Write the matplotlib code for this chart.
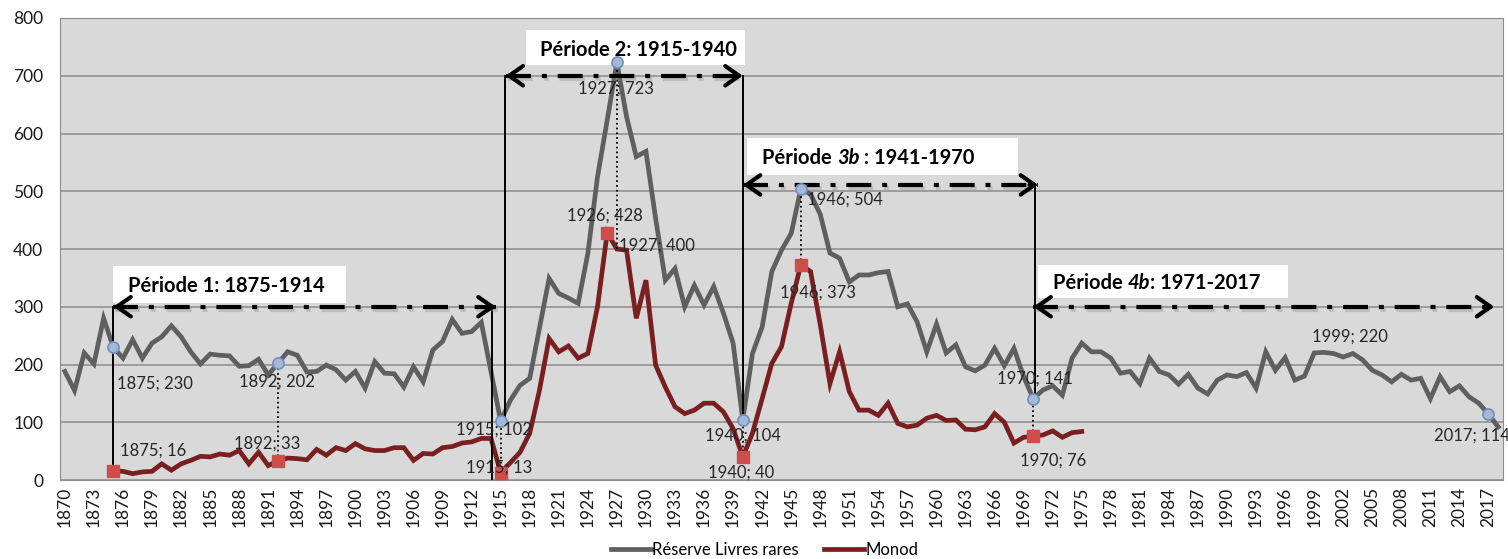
import matplotlib
matplotlib.use("Agg")
import matplotlib.pyplot as plt
import matplotlib.patheffects as pe
from matplotlib.patches import Rectangle

plt.rcParams['font.family'] = ['Lato', 'DejaVu Sans']

# --- data -------------------------------------------------------------
years = list(range(1870, 2019))
reserve = [188, 155, 220, 201, 280, 230, 211, 243, 211, 237,   # 1870-1879
           248, 267, 248, 222, 201, 218, 216, 215, 197, 198,   # 1880-1889
           209, 182, 202, 222, 216, 187, 188, 199, 191, 173,   # 1890-1899
           188, 159, 205, 185, 184, 161, 196, 170, 225, 240,   # 1900-1909
           278, 254, 257, 273, 188, 102, 138, 164, 176, 263,   # 1910-1919
           349, 323, 315, 306, 392, 525, 623, 723, 629, 560,   # 1920-1929
           569, 453, 346, 366, 300, 337, 303, 335, 289, 237,   # 1930-1939
           104, 219, 265, 361, 398, 427, 504, 495, 460, 393,   # 1940-1949
           384, 343, 355, 355, 359, 361, 300, 305, 274, 222,   # 1950-1959
           270, 220, 234, 196, 189, 199, 228, 198, 228, 179,   # 1960-1969
           141, 156, 163, 147, 211, 237, 222, 222, 211, 185,   # 1970-1979
           188, 167, 211, 188, 182, 166, 183, 159, 149, 173,   # 1980-1989
           182, 179, 186, 159, 222, 190, 212, 173, 180, 220,   # 1990-1999
           221, 219, 213, 219, 208, 190, 182, 170, 183, 173,   # 2000-2009
           176, 141, 179, 153, 163, 144, 133, 114, 92]         # 2010-2018

monod_years = list(range(1875, 1976))
monod = [16, 15, 11, 14, 15,                                 # 1875-1879
         28, 17, 28, 34, 41, 40, 45, 43, 51, 28,             # 1880-1889
         48, 25, 33, 38, 37, 35, 53, 43, 56, 51,             # 1890-1899
         63, 54, 51, 51, 56, 56, 34, 46, 45, 56,             # 1900-1909
         58, 64, 66, 72, 72, 13, 30, 48, 81, 155,            # 1910-1919
         245, 222, 232, 211, 219, 300, 428, 400, 398, 280,   # 1920-1929
         346, 199, 161, 127, 115, 121, 133, 133, 118, 89,    # 1930-1939
         40, 81, 141, 202, 231, 306, 373, 361, 269, 167,     # 1940-1949
         222, 153, 121, 121, 112, 133, 98, 92, 95, 107,      # 1950-1959
         112, 103, 104, 88, 87, 92, 115, 100, 64, 74,        # 1960-1969
         76, 78, 85, 74, 82, 84]                             # 1970-1975

tick_years = list(range(1870, 2018, 3))
y_ticks = list(range(0, 801, 100))

reserve_marked = [1875, 1892, 1915, 1927, 1940, 1946, 1970, 2017]
monod_marked = [1875, 1892, 1915, 1926, 1940, 1946, 1970]

# data labels: (series, year, dx in years, dy in values)
labels = [("r", 1875, 0.4, -63), ("r", 1892, -4.0, -32),
          ("m", 1875, 0.7, 35), ("m", 1892, -4.5, 30),
          ("r", 1915, -4.6, -14), ("m", 1915, -3.6, 9),
          ("r", 1927, -4.0, -45), ("m", 1926, -4.2, 30),
          ("m", 1927, 0.2, 6),
          ("r", 1940, -3.9, -28), ("m", 1940, -3.6, -28),
          ("r", 1946, 0.6, -19), ("m", 1946, -2.2, -48),
          ("r", 1970, -3.7, 34), ("m", 1970, -1.4, -43),
          ("r", 1999, -0.2, 28), ("r", 2017, -5.6, -38)]

# dotted links between the two series
dotted_years = [1892, 1915, 1927, 1940, 1946, 1970]

# periods: arrow start, arrow end, arrow level
periods = [(1875, 1914.5, 300), (1915.5, 1940, 700),
           (1940, 1970.5, 511), (1970, 2017.6, 300)]
# solid verticals: x, y from, y to
verticals = [(1875, 16, 300), (1914.1, 0, 300), (1915.4, 102, 700),
             (1940, 104, 700), (1970.2, 141, 511)]
# title boxes: x0, x1, y0, y1, text x, text y, parts
period_boxes = [
    (1875, 1899, 306, 370, 1876.5, 336, [("Période 1: 1875-1914", "normal")]),
    (1917.6, 1940.2, 719, 779, 1919.1, 745, [("Période 2: 1915-1940", "normal")]),
    (1940.4, 1968.4, 528, 592, 1942, 558,
     [("Période ", "normal"), ("3b", "italic"), (" : 1941-1970", "normal")]),
    (1970.5, 1996.3, 315, 372, 1972, 341,
     [("Période ", "normal"), ("4b", "italic"), (": 1971-2017", "normal")]),
]

GRAY = '#5f5f5f'
RED = '#7a1f1f'


def val(series, year):
    if series == "r":
        return reserve[years.index(year)]
    return monod[monod_years.index(year)]


def period_text(ax, x, y, parts, size):
    prev = None
    for txt, style in parts:
        if prev is None:
            prev = ax.text(x, y, txt, fontsize=size, fontweight='bold',
                           style=style, va='center', ha='left', zorder=6)
        else:
            prev = ax.annotate(txt, xy=(1, 0), xycoords=prev, va='bottom',
                               ha='left', fontsize=size, fontweight='bold',
                               style=style, zorder=6)


def main():
    fig, ax = plt.subplots(figsize=(15.08, 5.59), dpi=100)
    fig.subplots_adjust(left=0.0398, right=0.9967, top=0.9678, bottom=0.1413)
    ax.set_facecolor('#d9d9d9')

    ax.plot(years, reserve, color=GRAY, lw=3.4, solid_joinstyle='miter',
            label='Réserve Livres rares', zorder=3)
    ax.plot(monod_years, monod, color=RED, lw=3.4, solid_joinstyle='miter',
            label='Monod', zorder=3)

    ax.plot(reserve_marked, [val("r", y) for y in reserve_marked], 'o',
            ms=8, mfc='#a5b8d6', mec='#6f8fc4', mew=1.2, zorder=5)
    ax.plot(monod_marked, [val("m", y) for y in monod_marked], 's',
            ms=8, mfc='#cf4e4b', mec='#cf4e4b', zorder=5)

    for yr in dotted_years:
        lo = monod[monod_years.index(yr)]
        hi = reserve[years.index(yr)]
        ax.plot([yr, yr], [lo, hi], color='black', lw=1.3, ls=':', zorder=4)

    for x, y0, y1 in verticals:
        ax.plot([x, x], [y0, y1], color='black', lw=1.4, zorder=4)

    shadow = [pe.SimpleLineShadow(offset=(1.5, -2.5), shadow_color='#8a8a8a',
                                  alpha=0.35), pe.Normal()]
    for x0, x1, y in periods:
        ax.plot([x0, x1], [y, y], color='black', lw=3,
                ls=(0, (6, 2.6, 1.2, 2.6)), path_effects=shadow, zorder=4)
        for tip, back in ((x0, x0 + 0.9), (x1, x1 - 0.9)):
            ax.annotate('', xy=(tip, y), xytext=(back, y),
                        arrowprops=dict(arrowstyle='->,head_length=0.5,head_width=0.35',
                                        lw=3, color='black', shrinkA=0, shrinkB=0,
                                        mutation_scale=20), zorder=4)

    for x0, x1, y0, y1, tx, ty, parts in period_boxes:
        ax.add_patch(Rectangle((x0, y0), x1 - x0, y1 - y0, facecolor='white',
                               edgecolor='none', zorder=2.5))
        period_text(ax, tx, ty, parts, 14.5)

    for s, yr, dx, dy in labels:
        v = val(s, yr)
        ax.annotate(f"{yr}; {v}", xy=(yr, v), xytext=(yr + dx, v + dy),
                    textcoords='data', fontsize=12, color='#262626',
                    ha='left', va='center', zorder=6)

    ax.set_xlim(1869.5, 2018.5)
    ax.set_ylim(0, 800)
    ax.set_yticks(y_ticks)
    ax.set_xticks(tick_years)
    ax.set_xticklabels([str(t) for t in tick_years], rotation=90)
    ax.tick_params(axis='both', length=0, labelsize=12.5, colors='#1a1a1a')
    ax.tick_params(axis='x', pad=5)
    ax.tick_params(axis='y', pad=12)
    ax.grid(axis='y', color='#8c8c8c', lw=1.1)
    ax.set_axisbelow(True)
    for sp in ax.spines.values():
        sp.set_color('#8c8c8c')

    fig.legend(loc='center', bbox_to_anchor=(0.507, 0.016), ncol=2,
               frameon=False, fontsize=12, handlelength=2.4,
               handletextpad=0.1, columnspacing=1.5)

    fig.savefig('out.png', dpi=100)


if __name__ == "__main__":
    assert len(reserve) == len(years)
    assert len(monod) == len(monod_years)
    main()
